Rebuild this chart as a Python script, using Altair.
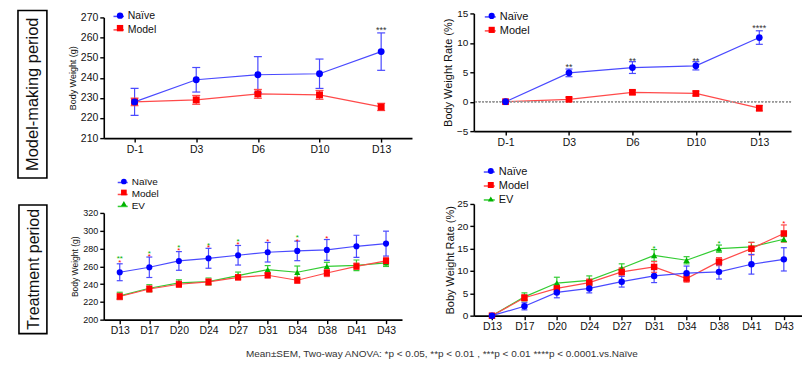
import altair as alt
import pandas as pd

FONT = "Liberation Sans"

# ---------------- data ----------------
days1 = ["D-1", "D3", "D6", "D10", "D13"]
bw1_naive = [228, 239, 241.5, 242, 253]
bw1_naive_sem = [6.7, 6.1, 9.0, 7.3, 9.3]
bw1_model = [228, 229, 232, 231.5, 225.5]
bw1_model_sem = [1.9, 2.2, 2.2, 2.2, 1.8]

rate1_naive = [0, 4.9, 5.8, 6.1, 10.9]
rate1_naive_sem = [0.15, 0.65, 1.0, 0.7, 1.15]
rate1_model = [0, 0.4, 1.6, 1.4, -1.1]
rate1_model_sem = [0.15, 0.35, 0.35, 0.4, 0.45]

days2 = ["D13", "D17", "D20", "D24", "D27", "D31", "D34", "D38", "D41", "D43"]
bw2_naive = [253.3, 258.9, 266, 269, 272.4, 275.8, 277.3, 278.4, 282.5, 285.5]
bw2_naive_sem = [9.5, 11.5, 10.5, 11.2, 11, 11, 11, 11.7, 12.4, 14]
bw2_model = [226, 234.5, 239.8, 242.4, 247.6, 249.9, 244.3, 252.5, 260, 266]
bw2_model_sem = [3.5, 3.5, 3.5, 3.5, 3, 3, 3.5, 4, 3.5, 4]
bw2_ev = [226.8, 235.3, 241.3, 242.8, 249.5, 256.3, 253.3, 260, 261.1, 263.8]
bw2_ev_sem = [4, 4, 3.5, 4, 4, 4.5, 7, 4.5, 6, 4]

rate2_naive = [0, 2.1, 5.2, 6.1, 7.6, 8.9, 9.5, 9.8, 11.5, 12.6]
rate2_naive_sem = [0.15, 0.8, 1.2, 1.0, 1.2, 1.5, 1.6, 1.6, 2.2, 2.6]
rate2_model = [0, 4.0, 6.1, 7.4, 9.8, 10.9, 8.3, 12.1, 15.0, 18.4]
rate2_model_sem = [0.15, 0.7, 0.8, 0.8, 0.9, 1.2, 0.8, 0.9, 1.4, 1.9]
rate2_ev = [0, 4.2, 7.3, 7.9, 10.6, 13.5, 12.4, 15.0, 15.4, 17.1]
rate2_ev_sem = [0.15, 0.9, 1.3, 1.0, 1.0, 1.3, 0.8, 0.8, 1.0, 0.6]

stars1_days = ["D13"]
stars1_text = ["***"]
stars1_y = [264.8]

stars2_days = ["D3", "D6", "D10", "D13"]
stars2_text = ["**", "**", "**", "****"]
stars2_y = [6.3, 7.3, 7.3, 12.8]

stars3_green_days = ["D13", "D17", "D20", "D24", "D27", "D34"]
stars3_green_text = ["**", "*", "*", "*", "*", "*"]
stars3_green_y = [270, 276, 282.5, 285.5, 289.6, 293.8]
stars3_red_days = ["D13", "D17", "D20", "D24", "D27", "D31", "D34", "D38"]
stars3_red_text = ["*", "*", "*", "*", "*", "*", "*", "*"]
stars3_red_y = [265.5, 272.4, 279, 282.5, 286.3, 289.3, 290, 293]

stars4_green_days = ["D31", "D38"]
stars4_green_text = ["*", "*"]
stars4_green_y = [15.4, 16.5]
stars4_red_days = ["D43"]
stars4_red_text = ["*"]
stars4_red_y = [21]

names2 = ["Naïve", "Model"]
names3 = ["Naïve", "Model", "EV"]
line_cols = ["#4a4aff", "#ff4a4a", "#33cc33"]
pt_cols = ["#0000ff", "#ff0000", "#00b300"]
shapes = ["circle", "square", "triangle-up"]

caption = "Mean±SEM, Two-way ANOVA: *p < 0.05, **p < 0.01 ,   ***p < 0.01 ****p < 0.0001.vs.Naïve"


def make_df(days, series):
    rows = []
    # Naive drawn last (on top)
    for name, vals, sems in reversed(series):
        for d, v, s in zip(days, vals, sems):
            rows.append(dict(day=d, group=name, g2=name + " ", value=v, lo=v - s, hi=v + s))
    return pd.DataFrame(rows)


def star_df(days, texts, ys):
    return pd.DataFrame({"day": days, "txt": texts, "value": ys})


def panel(days, series, names, ydom, yvals, ytitle, ytitle_size, ylab_size,
          w, h, ytop, pad, legx, legy, leg_font, row_pad, psize, cap,
          stars=(), zero_rule=False, title_pad=3, axis_len=None):
    n = len(names)
    df = make_df(days, series)
    xs = dict(type="point", padding=pad)
    if axis_len is not None:
        xs["range"] = [0, axis_len]
    xenc = alt.X("day:N", sort=days, scale=alt.Scale(**xs),
                 axis=alt.Axis(title=None, labelAngle=0, labelFontSize=10.5))
    yscale = alt.Scale(domain=ydom, range=[h, ytop], nice=False, zero=False)
    yaxis = alt.Axis(values=yvals, labelFontSize=ylab_size, titleFontSize=ytitle_size,
                     titlePadding=title_pad, labelOverlap=False)

    def Y(field):
        return alt.Y(field, type="quantitative", scale=yscale, axis=yaxis, title=ytitle)

    lcols = line_cols[:n]
    pcols = pt_cols[:n]
    shp = shapes[:n]
    names_b = [nm + " " for nm in names]
    slen = leg_font
    leg_line = alt.Legend(orient="none", legendX=legx, legendY=legy, title=None,
                          symbolType="stroke", symbolSize=slen * slen,
                          symbolStrokeWidth=1.5, labelFontSize=leg_font,
                          labelFont=FONT, rowPadding=row_pad, padding=0,
                          labelOffset=3, labelColor="#111")
    ssz = psize * 0.85
    leg_pts = alt.Legend(orient="none", legendX=legx + slen / 2 - (ssz ** 0.5) / 2,
                         legendY=legy, title=None, symbolSize=ssz,
                         symbolStrokeWidth=0, labelFontSize=leg_font, labelFont=FONT,
                         rowPadding=row_pad, padding=0, labelOpacity=0,
                         labelOffset=3)
    base = alt.Chart(df)
    layers = []
    layers.append(base.mark_line(strokeWidth=1.2).encode(
        x=xenc, y=Y("value"),
        stroke=alt.Stroke("group:N", scale=alt.Scale(domain=names, range=lcols),
                          legend=leg_line)))
    if zero_rule:
        layers.append(base.mark_rule(color="#9a9a9a", strokeDash=[1.5, 2], strokeWidth=1)
                      .encode(y=alt.Y(datum=0, type="quantitative", scale=yscale,
                                      axis=yaxis, title=ytitle)))
    ccol = alt.Color("group:N", scale=alt.Scale(domain=names, range=lcols), legend=None)
    layers.append(base.mark_rule(strokeWidth=1.2).encode(
        x=xenc, y=Y("lo"), y2="hi", color=ccol))
    layers.append(base.mark_tick(orient="horizontal", thickness=1.2, size=cap, opacity=1)
                  .encode(x=xenc, y=Y("lo"), color=ccol))
    layers.append(base.mark_tick(orient="horizontal", thickness=1.2, size=cap, opacity=1)
                  .encode(x=xenc, y=Y("hi"), color=ccol))
    layers.append(base.mark_point(filled=True, size=psize, opacity=1, strokeWidth=0).encode(
        x=xenc, y=Y("value"),
        fill=alt.Fill("g2:N", scale=alt.Scale(domain=names_b, range=pcols), legend=leg_pts),
        shape=alt.Shape("g2:N", scale=alt.Scale(domain=names_b, range=shp), legend=leg_pts)))
    for sdf, col, fs in stars:
        layers.append(alt.Chart(sdf).mark_text(fontSize=fs, font=FONT, color=col,
                                               baseline="middle", dy=2)
                      .encode(x=xenc, y=Y("value"), text="txt:N"))
    return alt.layer(*layers).properties(width=w, height=h)


def label_box(text, w, h, x0, x1, y0, y1, fs, extra=None):
    d = pd.DataFrame({"t": [text]})
    rect = alt.Chart(d).mark_rect(fill="transparent", stroke="black", strokeWidth=1.6).encode(
        x=alt.value(x0), x2=alt.value(x1), y=alt.value(y0), y2=alt.value(y1))
    txt = alt.Chart(d).mark_text(angle=270, fontSize=fs, font=FONT, color="#111").encode(
        x=alt.value((x0 + x1) / 2 + 1), y=alt.value((y0 + y1) / 2), text="t:N")
    layers = [rect, txt]
    if extra is not None:
        layers.append(extra)
    return alt.layer(*layers).properties(width=w, height=h)


RES = dict(stroke="independent", color="independent", fill="independent",
           shape="independent")

p1 = panel(days1, [("Naïve", bw1_naive, bw1_naive_sem), ("Model", bw1_model, bw1_model_sem)],
           names2, [210, 270], [210, 220, 230, 240, 250, 260, 270], "Body Weight (g)",
           9, 10.5, 314, 128, 7, 0.5, 9, 0, 10.5, 1.5, 48, 8,
           stars=[(star_df(stars1_days, stars1_text, stars1_y), "#333", 9)], axis_len=309)
p2 = panel(days1, [("Naïve", rate1_naive, rate1_naive_sem), ("Model", rate1_model, rate1_model_sem)],
           names2, [-5, 15], [-5, 0, 5, 10, 15], "Body Weight Rate (%)",
           11, 10, 318, 121, 3, 0.5, 10, 0, 11, 2, 45, 7,
           stars=[(star_df(stars2_days, stars2_text, stars2_y), "#333", 9)], zero_rule=True)
p3 = panel(days2, [("Naïve", bw2_naive, bw2_naive_sem), ("Model", bw2_model, bw2_model_sem),
                   ("EV", bw2_ev, bw2_ev_sem)],
           names3, [200, 320], [200, 220, 240, 260, 280, 300, 320], "Body Weight (g)",
           8.5, 9, 299, 142, 35, 0.54, 13, -1.5, 10, 1, 38, 6,
           stars=[(star_df(stars3_green_days, stars3_green_text, stars3_green_y), "#00b300", 8),
                  (star_df(stars3_red_days, stars3_red_text, stars3_red_y), "#ff0000", 8)])
p4 = panel(days2, [("Naïve", rate2_naive, rate2_naive_sem), ("Model", rate2_model, rate2_model_sem),
                   ("EV", rate2_ev, rate2_ev_sem)],
           names3, [0, 25], [0, 5, 10, 15, 20, 25], "Boby Weight Rate (%)",
           11, 10, 329, 138, 26, 0.56, 9, -12.5, 11, 2, 42, 6,
           stars=[(star_df(stars4_green_days, stars4_green_text, stars4_green_y), "#00b300", 8),
                  (star_df(stars4_red_days, stars4_red_text, stars4_red_y), "#ff0000", 8)],
           title_pad=1)

cap_df = pd.DataFrame({"t": [caption]})
cap_text = alt.Chart(cap_df).mark_text(fontSize=10, font=FONT, color="#333").encode(
    x=alt.value(435), y=alt.value(176), text="t:N")

lab1 = label_box("Model-making period", 39, 168, 10, 39, 0, 168, 16.5)
lab2 = label_box("Treatment period", 39, 156, 11, 39, 27, 156, 16, extra=cap_text)

chart = alt.concat(
    lab1, p1, p2, lab2, p3, p4, columns=3,
    spacing=alt.RowColnumber(row=0, column=57), bounds="flush", align="each"
).resolve_scale(**RES).properties(
    padding=0, background="white"
).configure_view(stroke=None).configure_axis(
    grid=False, domainColor="black", domainWidth=1.6, tickColor="black", tickWidth=1.4,
    tickSize=4, labelColor="#111", titleColor="#111", labelFont=FONT, titleFont=FONT,
    titleFontWeight="normal", labelPadding=2
).configure_text(font=FONT)

chart.save("out.html", embed_options={"renderer": "svg", "actions": False})
